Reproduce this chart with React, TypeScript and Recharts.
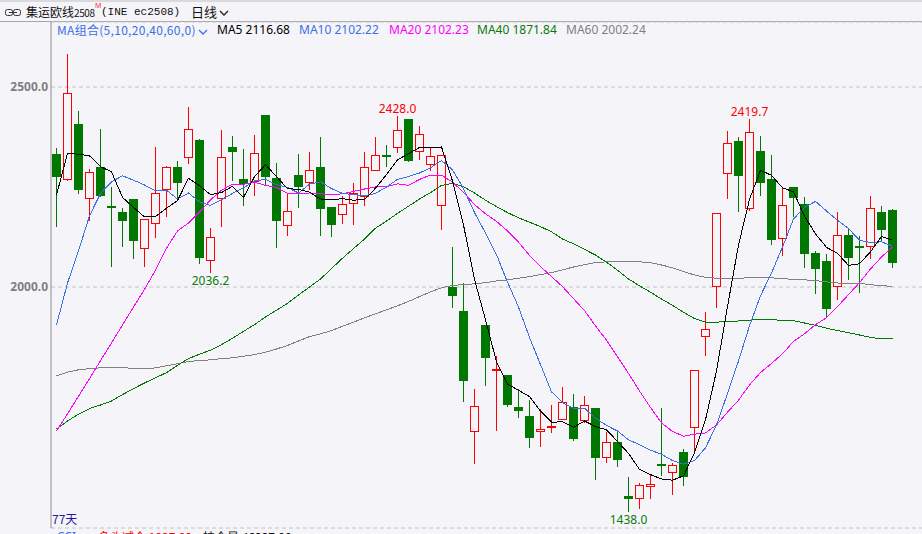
import { ComposedChart, Bar, Line, XAxis, YAxis, CartesianGrid, ReferenceDot } from 'recharts'

// 77 daily candles
const OPEN = [
  2332.5, 2267, 2407.5, 2219, 2300, 2203, 2187.5, 2220, 2094, 2157,
  2242, 2300, 2322, 2367.5, 2064, 2219, 2350, 2270, 2263, 2430,
  2272.5, 2152, 2279, 2259, 2300, 2200, 2179, 2207, 2226, 2289,
  2329, 2347, 2420, 2338, 2304, 2202, 1999, 1940, 1637, 1905,
  1789, 1780, 1700, 1677.5, 1637, 1647, 1668, 1700, 1664, 1697.5,
  1573, 1612, 1477.5, 1471, 1501, 1558, 1534, 1587.5, 1647, 1874,
  1999, 2282, 2365, 2194, 2340, 2270, 2119, 2250, 2207, 2084,
  2065, 1999, 2129, 2102, 2099, 2187.5, 2192.5,
]
const HIGH = [
  2348, 2582, 2440, 2295, 2395, 2249, 2197, 2220, 2169, 2350,
  2302.5, 2315, 2450, 2371, 2147.5, 2392.5, 2377.5, 2345, 2380, 2430,
  2310, 2236, 2332.5, 2337.5, 2375, 2200, 2227.5, 2259, 2337.5, 2375,
  2355, 2428, 2420, 2402.5, 2349, 2329, 2099, 2009, 1745, 1905,
  1827, 1780, 1744, 1717.5, 1696, 1705, 1750, 1732.5, 1727.5, 1697.5,
  1638, 1640, 1525, 1509, 1532.5, 1698, 1559, 1594, 1792, 1937.5,
  2184, 2391, 2374, 2419.7, 2377.5, 2330, 2250, 2250, 2225, 2090,
  2082.5, 2187, 2145, 2127.5, 2227.5, 2203, 2195,
]
const LOW = [
  2151, 2266, 2232.5, 2166, 2224, 2051, 2101, 2071, 2051, 2123,
  2176, 2222, 2308, 2057, 2036.2, 2151, 2265, 2203, 2228, 2253,
  2098, 2128, 2198, 2242.5, 2128, 2126, 2158, 2156, 2203, 2289,
  2300, 2334, 2313, 2317.5, 2289, 2143, 1948, 1713, 1557, 1753,
  1641, 1701, 1673, 1598, 1601, 1635, 1668, 1615, 1661, 1517.5,
  1561, 1551, 1438, 1446, 1471, 1528, 1479, 1503, 1590, 1828,
  1948, 2221, 2188, 2189, 2228, 2106, 2078, 2176, 2047.5, 1983,
  1926, 1967.5, 2017.5, 1986, 2071, 2113, 2047.5,
]
const CLOSE = [
  2276, 2484, 2243, 2287, 2228, 2197, 2166, 2116, 2169, 2234,
  2299, 2261, 2394, 2073, 2124, 2324, 2338, 2257.5, 2334, 2276,
  2166, 2189, 2251, 2292, 2196, 2156, 2207, 2234, 2300, 2329,
  2324, 2392, 2316, 2382, 2327, 2329, 1978, 1766, 1702, 1823,
  1794, 1706, 1691, 1623, 1645, 1652.5, 1712, 1621, 1704, 1573,
  1612, 1567.5, 1469, 1504, 1507, 1553, 1554, 1526, 1792, 1894,
  2184, 2359, 2278, 2387, 2261, 2117.5, 2204, 2223, 2083, 2046,
  1946, 2129, 2073, 2098, 2197, 2142.5, 2061,
]

const MA5 = [
  2230, 2334, 2332, 2328, 2301, 2288, 2224, 2199, 2175, 2176,
  2197, 2216, 2272, 2253, 2231, 2236, 2252, 2224, 2276, 2306,
  2276, 2246, 2244, 2237, 2220, 2218, 2221, 2217, 2219, 2247,
  2281, 2318, 2333, 2349, 2349, 2350, 2265, 2155, 2019, 1918,
  1813, 1757, 1742, 1726, 1690, 1662, 1663, 1649, 1665, 1651,
  1643, 1614, 1584, 1544, 1531, 1520, 1517, 1528, 1586, 1668,
  1790, 1951, 2105, 2219, 2292, 2279, 2248, 2238, 2177, 2133,
  2099, 2084, 2054, 2058, 2088, 2126, 2117,
]
const MA10 = [
  1905, 2010, 2090, 2178, 2234, 2263, 2278, 2267, 2255, 2240,
  2242, 2220, 2235, 2213, 2204, 2218, 2234, 2248, 2265, 2269,
  2256, 2249, 2235, 2257, 2263, 2246, 2234, 2231, 2228, 2234,
  2250, 2269, 2276, 2285, 2298, 2316, 2293, 2246, 2186, 2135,
  2081, 2012, 1950, 1874, 1806, 1738, 1711, 1697, 1697, 1672,
  1654, 1640, 1618, 1606, 1592, 1582, 1566, 1557, 1566, 1598,
  1655, 1734, 1815, 1903, 1978, 2035, 2100, 2170, 2199, 2214,
  2190, 2167, 2146, 2117, 2111, 2113, 2102,
]
const MA20 = [
  1640, 1683, 1727, 1771, 1816, 1860, 1905, 1950, 1994, 2042,
  2097, 2140, 2160, 2187, 2218, 2242, 2257, 2257, 2262, 2254,
  2249, 2234, 2234, 2235, 2233, 2231, 2233, 2239, 2245, 2250,
  2251, 2258, 2254, 2269, 2280, 2280, 2262, 2237, 2206, 2183,
  2164, 2140, 2112, 2079, 2051, 2026, 2001, 1971, 1941, 1903,
  1867, 1826, 1784, 1740, 1699, 1660, 1639, 1627, 1632, 1635,
  1655, 1687, 1717, 1755, 1786, 1809, 1833, 1864, 1883, 1906,
  1923, 1951, 1981, 2011, 2045, 2075, 2100,
]
const MA40 = [
  1645, 1665, 1682, 1696, 1705, 1715, 1731, 1746, 1760, 1773,
  1786, 1804, 1821, 1832, 1842, 1856, 1872, 1889, 1906, 1925,
  1942, 1959, 1980, 2000, 2020, 2046, 2072, 2096, 2120, 2147,
  2165, 2184, 2202, 2220, 2236, 2254, 2259, 2251, 2235, 2217,
  2201, 2186, 2173, 2162, 2151, 2138, 2120, 2108, 2094, 2080,
  2062, 2042, 2020, 2003, 1987, 1970, 1954, 1937, 1921, 1912,
  1912, 1914, 1915, 1917, 1919, 1918, 1917, 1916, 1910, 1904,
  1897, 1891, 1886, 1880, 1874, 1870, 1872,
]
const MA60 = [
  1778, 1787, 1793, 1796, 1798, 1799, 1799, 1796, 1795, 1798,
  1803, 1808, 1814, 1816, 1818, 1821, 1823, 1827, 1831, 1837,
  1845, 1854, 1865, 1876, 1883, 1891, 1902, 1912, 1923, 1933,
  1943, 1953, 1964, 1976, 1988, 1998, 2004, 2006, 2008, 2011,
  2015, 2018, 2022, 2026, 2031, 2036, 2043, 2050, 2056, 2061,
  2063, 2063, 2063, 2063, 2061, 2055, 2048, 2039, 2030, 2024,
  2022, 2022, 2022, 2023, 2024, 2023, 2021, 2019, 2018, 2016,
  2013, 2010, 2009, 2009, 2006, 2003, 2002,
]

const Y_TICKS = [2000, 2500]

// 고점/저점 표시
const MARKS = [
  { day: 32, value: 2428.0, text: '2428.0', side: 'top' },
  { day: 64, value: 2419.7, text: '2419.7', side: 'top' },
  { day: 15, value: 2036.2, text: '2036.2', side: 'bottom' },
  { day: 53, value: 1438.0, text: '1438.0', side: 'bottom' },
]

const LEGEND = [
  { text: 'MA5 2116.68', color: '#000000', left: 217 },
  { text: 'MA10 2102.22', color: '#3b6fe6', left: 299 },
  { text: 'MA20 2102.23', color: '#ff00ff', left: 389 },
  { text: 'MA40 1871.84', color: '#0a7a0a', left: 477 },
  { text: 'MA60 2002.24', color: '#7f7f7f', left: 566 },
]

const BG = '#f5f5f9'
const RED = '#ff0000'
const GREEN = '#007800'
const AXIS = '#8c8c8c'
const FONT = '"Noto Sans", "Noto Sans CJK SC", sans-serif'

const data = CLOSE.map((c, i) => ({
  day: i + 1,
  open: OPEN[i],
  high: HIGH[i],
  low: LOW[i],
  close: c,
  range: [LOW[i], HIGH[i]],
  ma5: MA5[i],
  ma10: MA10[i],
  ma20: MA20[i],
  ma40: MA40[i],
  ma60: MA60[i],
}))

function Candle(props: any) {
  const { x, y, width, height, payload } = props
  if (x == null || y == null || !payload) return null
  const { open, close, high, low } = payload
  const top = Math.min(y, y + height)
  const h = Math.abs(height)
  const py = (v: number) => (high === low ? top : top + ((high - v) / (high - low)) * h)
  const c = Math.floor(x + width / 2)
  const bTop = Math.round(py(Math.max(open, close)))
  const bBot = Math.round(py(Math.min(open, close)))
  const wTop = Math.round(top)
  const wBot = Math.round(top + h)

  if (close >= open) {
    return (
      <g shapeRendering="crispEdges">
        {bTop > wTop && <line x1={c + 0.5} x2={c + 0.5} y1={wTop} y2={bTop} stroke={RED} />}
        {wBot > bBot && <line x1={c + 0.5} x2={c + 0.5} y1={bBot} y2={wBot} stroke={RED} />}
        <rect x={c - 3.5} y={bTop + 0.5} width={8} height={Math.max(bBot - bTop - 1, 1)} fill={BG} stroke={RED} />
      </g>
    )
  }
  return (
    <g shapeRendering="crispEdges">
      <line x1={c + 0.5} x2={c + 0.5} y1={wTop} y2={wBot} stroke={GREEN} />
      <rect x={c - 4} y={bTop} width={9} height={Math.max(bBot - bTop, 1)} fill={GREEN} />
    </g>
  )
}

function Chevron({ color }: { color: string }) {
  return (
    <svg width="10" height="8" viewBox="0 0 10 8" style={{ display: 'inline-block', marginLeft: 2, verticalAlign: 'middle' }}>
      <polyline points="1,2 5,6 9,2" fill="none" stroke={color} strokeWidth="1.3" />
    </svg>
  )
}

const lineProps = {
  type: 'linear' as const,
  strokeWidth: 1,
  dot: false,
  activeDot: false,
  isAnimationActive: false,
  shapeRendering: 'crispEdges',
}

export default function App() {
  const txt = { position: 'absolute' as const, whiteSpace: 'nowrap' as const, fontFamily: FONT, lineHeight: '16px' }
  return (
    <div style={{ position: 'absolute', left: 0, top: 0, width: 922, height: 534, background: BG, overflow: 'hidden' }}>
      {/* 상단 타이틀 */}
      <div style={{ position: 'absolute', left: 0, top: 0, width: 922, height: 2, background: '#dadade' }} />
      <div style={{ position: 'absolute', left: 0, top: 21, width: 922, height: 1, background: '#a6a6a6' }} />
      <svg width="16" height="8" style={{ position: 'absolute', left: 5, top: 9 }}>
        <rect x="0.5" y="0.5" width="7" height="6" rx="2" fill="none" stroke="#333" />
        <rect x="8.5" y="0.5" width="7" height="6" rx="2" fill="none" stroke="#333" />
        <line x1="4" y1="3.5" x2="12" y2="3.5" stroke="#333" />
      </svg>
      <div style={{ ...txt, left: 26, top: 4, fontSize: 12, color: '#111', fontFamily: '"Noto Sans CJK SC", sans-serif' }}>
        集运欧线<span style={{ fontSize: 10, letterSpacing: -0.4 }}>2508</span>
      </div>
      <div style={{ ...txt, left: 95, top: 2, fontSize: 7, lineHeight: '8px', color: '#ff3030' }}>M</div>
      <div style={{ ...txt, left: 101, top: 4, fontSize: 11, color: '#111', fontFamily: '"Liberation Mono", monospace' }}>(INE ec2508)</div>
      <div style={{ ...txt, left: 191, top: 4, fontSize: 13, color: '#111', fontFamily: '"Noto Sans CJK SC", sans-serif' }}>
        日线<Chevron color="#222" />
      </div>

      {/* 이동평균 범례 */}
      <div style={{ ...txt, left: 57, top: 22, fontSize: 12, color: '#3b6fe6', fontFamily: '"Noto Sans CJK SC", sans-serif', letterSpacing: 0.3 }}>
        MA组合(5,10,20,40,60,0)<Chevron color="#3b6fe6" />
      </div>
      {LEGEND.map(l => (
        <div key={l.text} style={{ ...txt, left: l.left, top: 22, fontSize: 12, color: l.color }}>{l.text}</div>
      ))}

      <ComposedChart
        width={922}
        height={534}
        data={data}
        margin={{ top: 22, right: 0, bottom: 6, left: 0 }}
        style={{ position: 'absolute', left: 0, top: 0, fontFamily: FONT }}
      >
        <CartesianGrid vertical={false} stroke="#c4c4c8" strokeDasharray="4 3" />
        <XAxis
          dataKey="day"
          tick={false}
          tickLine={false}
          axisLine={{ stroke: AXIS }}
          height={0}
          padding={{ left: 0, right: 24 }}
        />
        <YAxis
          type="number"
          domain={[1397.5, 2662.5]}
          ticks={Y_TICKS}
          allowDataOverflow
          width={51}
          axisLine={{ stroke: AXIS }}
          tickLine={false}
          tickSize={0}
          tickMargin={3}
          tickFormatter={(v: number) => v.toFixed(1)}
          tick={{ fontSize: 12, fontWeight: 700, fill: '#808080', fontFamily: FONT }}
        />
        <Bar dataKey="range" barSize={9} isAnimationActive={false} shape={(p: any) => <Candle {...p} />} />
        <Line {...lineProps} dataKey="ma60" stroke="#808080" />
        <Line {...lineProps} dataKey="ma40" stroke="#007800" />
        <Line {...lineProps} dataKey="ma20" stroke="#ff00ff" />
        <Line {...lineProps} dataKey="ma10" stroke="#3b6fe6" />
        <Line {...lineProps} dataKey="ma5" stroke="#000000" />
        {MARKS.map(m => (
          <ReferenceDot
            key={m.text}
            x={m.day}
            y={m.value}
            r={1}
            fill="none"
            stroke="none"
            label={{
              value: m.text,
              position: m.side as 'top' | 'bottom',
              offset: m.side === 'top' ? 2 : 3,
              fill: m.side === 'top' ? RED : '#0a7a0a',
              fontSize: 12,
              fontFamily: FONT,
            }}
          />
        ))}
      </ComposedChart>

      <div style={{ ...txt, left: 52, top: 511, fontSize: 12, color: '#1c1c9c', fontFamily: '"Noto Sans CJK SC", sans-serif' }}>77天</div>

      {/* 하단 잘린 지표 줄 */}
      <div style={{ position: 'absolute', left: 0, top: 529, width: 922, height: 5, overflow: 'hidden' }}>
        <div style={{ ...txt, left: 57, top: 0, fontSize: 12, color: '#3b6fe6' }}>CCI</div>
        <div style={{ ...txt, left: 98, top: 0, fontSize: 12, color: RED, fontFamily: '"Noto Sans CJK SC", sans-serif' }}>多头减仓 1037.00</div>
        <div style={{ ...txt, left: 203, top: 0, fontSize: 12, color: '#111', fontFamily: '"Noto Sans CJK SC", sans-serif' }}>持仓量 46337.00</div>
      </div>
    </div>
  )
}
